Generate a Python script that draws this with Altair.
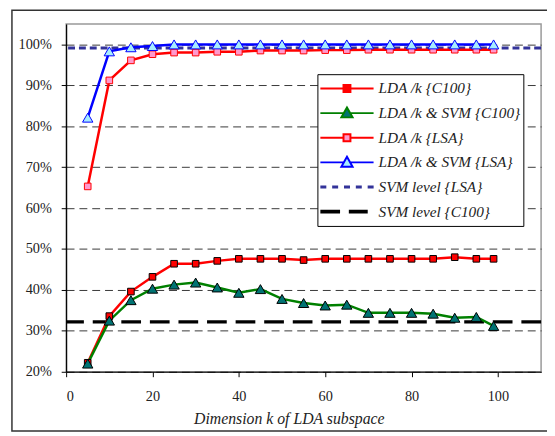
import altair as alt
import pandas as pd

# ---- data ----
k = [5, 10, 15, 20, 25, 30, 35, 40, 45, 50, 55, 60, 65, 70, 75, 80, 85, 90, 95, 99]
lda_c100 = [22.2, 33.6, 39.6, 43.2, 46.4, 46.4, 47.1, 47.6, 47.6, 47.6,
            47.3, 47.6, 47.6, 47.6, 47.6, 47.6, 47.6, 48.0, 47.6, 47.6]
svm_c100 = [22.0, 32.5, 37.5, 40.3, 41.3, 41.8, 40.6, 39.3, 40.2, 37.8,
            36.8, 36.2, 36.4, 34.4, 34.4, 34.4, 34.2, 33.2, 33.4, 31.2]
lda_lsa = [65.3, 91.2, 96.1, 97.6, 98.0, 98.0, 98.2, 98.2, 98.5, 98.5,
           98.5, 98.6, 98.6, 98.7, 98.7, 98.7, 98.7, 98.7, 98.7, 98.7]
svm_lsa = [82.1, 98.3, 99.3, 99.6, 100.0, 100.0, 100.0, 100.0, 100.0, 100.0,
           100.0, 100.0, 100.0, 100.0, 100.0, 100.0, 100.0, 100.0, 100.0, 100.0]
svm_level_lsa = [99.1]
svm_level_c100 = [32.2]

legend_names = ["LDA /k {C100}", "LDA /k & SVM {C100}", "LDA /k {LSA}",
                "LDA /k & SVM {LSA}", "SVM level {LSA}", "SVM level {C100}"]
y_ticks = [20, 30, 40, 50, 60, 70, 80, 90, 100]
x_ticks = [0, 20, 40, 60, 80, 100]

SERIF = "Liberation Serif"

x_scale = alt.Scale(domain=[0, 110], nice=False, zero=False)
y_scale = alt.Scale(domain=[20, 105], nice=False, zero=False)

x_axis = alt.Axis(values=x_ticks, grid=False, title="Dimension k of LDA subspace",
                  titleX=226, titleY=53, titleAnchor="start", titleAlign="center",
                  titleBaseline="alphabetic")
y_axis = alt.Axis(values=y_ticks, grid=True, title=None,
                  labelExpr="datum.value + '%'")

def series_df(vals):
    return pd.DataFrame({"k": k, "v": vals})

X = alt.X("k:Q", scale=x_scale, axis=x_axis)
Y = alt.Y("v:Q", scale=y_scale, axis=y_axis)

series = [
    (lda_lsa, "#ff0000", "square", "#ff99cc", "#ff0000", 45),
    (svm_lsa, "#0000ff", "triangle-up", "#a6ecff", "#0000ff", 110),
    (lda_c100, "#ff0000", "square", "#ff0000", "#000000", 45),
    (svm_c100, "#008000", "triangle-up", "#007373", "#000000", 110),
]

frame = alt.Chart(pd.DataFrame({"a": [0]})).mark_rect(
    fill="transparent", stroke="#333333", strokeWidth=1.5
).encode(x=alt.value(-55), x2=alt.value(495), y=alt.value(-14), y2=alt.value(413))

rule_lsa = alt.Chart(pd.DataFrame({"v": svm_level_lsa})).mark_rule(
    color="#333399", strokeWidth=3, strokeDash=[7, 4]
).encode(y=alt.Y("v:Q", scale=y_scale, axis=y_axis))
rule_c100 = alt.Chart(pd.DataFrame({"v": svm_level_c100})).mark_rule(
    color="#000000", strokeWidth=3.5, strokeDash=[20, 9]
).encode(y=alt.Y("v:Q", scale=y_scale, axis=y_axis))

layers = [frame, rule_lsa, rule_c100]
for vals, lc, shp, fc, sc, sz in series:
    d = series_df(vals)
    layers.append(alt.Chart(d).mark_line(color=lc, strokeWidth=2.5).encode(x=X, y=Y))
for vals, lc, shp, fc, sc, sz in series:
    d = series_df(vals)
    layers.append(alt.Chart(d).mark_point(
        shape=shp, filled=True, fill=fc, stroke=sc, strokeWidth=1, size=sz, opacity=1
    ).encode(x=X, y=Y))

# legend symbols: line + marker, drawn as custom symbol paths (unit = 27px)
sq = "M-1,0H-0.13M0.13,0H1M-0.13,-0.13H0.13V0.13H-0.13Z"
tri = "M-1,0H-0.12M0.12,0H1M0,-0.21L0.21,0.16H-0.21Z"
dots = "".join(f"M{a:.3f},-0.02H{a+0.15:.3f}V0.02H{a:.3f}Z" for a in [-0.963, -0.519, -0.074, 0.370, 0.815])
dashes = "M-0.963,-0.037H-0.297V0.037H-0.963ZM0.107,-0.037H0.743V0.037H0.107Z"
legend_paths = [sq, tri, sq, tri, dots, dashes]
legend_fills = ["#ff0000", "#007373", "#ff99cc", "#a6ecff", "#333399", "#000000"]
legend_strokes = ["#ff0000", "#008000", "#ff0000", "#0000ff", "#333399", "#000000"]

leg = alt.Legend(title=None, orient="none", legendX=255, legendY=51, padding=2,
                 strokeColor="#000000", fillColor="#ffffff", symbolSize=2916,
                 clipHeight=25, rowPadding=0, labelOffset=4, symbolStrokeWidth=2,
                 symbolOpacity=1, labelFont=SERIF, labelFontStyle="italic",
                 labelFontSize=15.5, labelColor="#222222", labelLimit=300)

legend_layer = alt.Chart(pd.DataFrame({"name": legend_names})).mark_point(
    filled=True, opacity=1
).encode(
    shape=alt.Shape("name:N", scale=alt.Scale(domain=legend_names, range=legend_paths), legend=leg),
    fill=alt.Fill("name:N", scale=alt.Scale(domain=legend_names, range=legend_fills), legend=leg),
    stroke=alt.Stroke("name:N", scale=alt.Scale(domain=legend_names, range=legend_strokes), legend=leg),
).transform_filter("false")

layers.append(legend_layer)

chart = alt.layer(*layers).properties(
    width=482, height=353,
    autosize=alt.AutoSizeParams(type="none"),
    padding={"left": 59, "top": 13, "right": 6, "bottom": 62},
).configure_view(
    stroke="#999999", strokeWidth=1.5
).configure_axis(
    domainColor="#000000", domainWidth=1.2, tickColor="#000000", tickSize=5,
    labelFont=SERIF, labelFontSize=14.5, labelColor="#222222",
    titleFont=SERIF, titleFontSize=16, titleFontStyle="italic",
    titleFontWeight="normal", titleColor="#222222",
    gridColor="#222222", gridDash=[8, 5], gridWidth=0.9
).configure_axisY(
    labelPadding=10
).configure_axisX(
    labelPadding=13
)

chart.save("out.html", embed_options={"renderer": "svg", "actions": False})
